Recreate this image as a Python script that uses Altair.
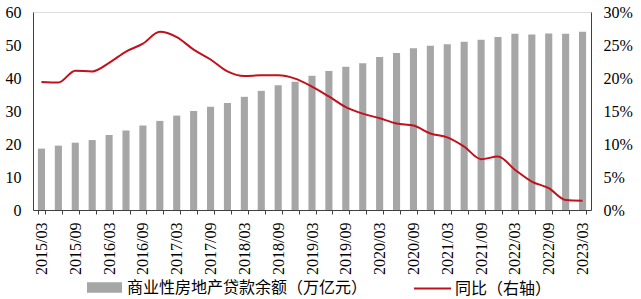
import altair as alt
import pandas as pd

quarters = [f"{y}/{m}" for y in range(2015, 2024) for m in ["03", "06", "09", "12"]][:33]
balance = [18.6, 19.5, 20.4, 21.2, 22.7, 24.1, 25.6, 27.0, 28.6, 30.0, 31.3, 32.4,
           34.3, 36.1, 37.8, 38.9, 40.7, 42.1, 43.4, 44.5, 46.4, 47.6, 49.0, 49.8,
           50.2, 51.0, 51.6, 52.4, 53.4, 53.2, 53.5, 53.4, 54.0]
yoy = [19.4, 19.3, 21.1, 21.0, 22.3, 24.0, 25.2, 27.0, 26.2, 24.3, 22.8, 21.0,
       20.3, 20.4, 20.4, 19.9, 18.7, 17.2, 15.6, 14.6, 13.9, 13.1, 12.8, 11.6,
       11.0, 9.6, 7.7, 8.1, 6.1, 4.3, 3.3, 1.5, 1.4]

bar_name = "商业性房地产贷款余额（万亿元）"
line_name = "同比（右轴）"

df = pd.DataFrame({
    "q": quarters,
    "bal": balance,
    "yoy": [v / 100 for v in yoy],
    "s1": bar_name,
    "s2": line_name,
})

FONT = "Liberation Serif, Noto Sans CJK SC"
label_values = quarters[::2]

x = alt.X("q:N", sort=quarters,
          scale=alt.Scale(paddingInner=0.58, paddingOuter=0.29),
          axis=alt.Axis(title=None, labelAngle=-90, labelAlign="right", labelBaseline="middle",
                        labelExpr="indexof(" + str(label_values).replace("'", '"') + ", datum.value) >= 0 ? datum.value : ''",
                        tickBand="extent", tickSize=4, labelPadding=8, labelFontSize=16,
                        labelFont=FONT, labelColor="#000", domainColor="#404040", tickColor="#404040",
                        labelOverlap=False))

bars = alt.Chart(df).mark_bar(color="#a6a6a6").encode(
    x=x,
    y=alt.Y("bal:Q", scale=alt.Scale(domain=[0, 60]),
            axis=alt.Axis(title=None, values=[0, 10, 20, 30, 40, 50, 60], tickSize=0,
                          labelPadding=12, labelFontSize=16, labelFont=FONT, labelColor="#000",
                          domainColor="#404040", grid=False)),
    fill=alt.Fill("s1:N", scale=alt.Scale(range=["#a6a6a6"]),
                  legend=alt.Legend(title=None, orient="none", legendX=54, legendY=258,
                                    symbolType="M-1,-0.3H1V0.3H-1Z", symbolSize=1225,
                                    symbolStrokeWidth=0, labelFontSize=16, labelFont=FONT,
                                    labelColor="#000", labelOffset=5, labelLimit=400)),
)

line = alt.Chart(df).mark_line(color="#c0121c", strokeWidth=2, interpolate="monotone").encode(
    x=x,
    y=alt.Y("yoy:Q", scale=alt.Scale(domain=[0, 0.3]),
            axis=alt.Axis(title=None, orient="right", format=".0%",
                          values=[0, 0.05, 0.1, 0.15, 0.2, 0.25, 0.3], tickSize=0,
                          labelPadding=12, labelFontSize=16, labelFont=FONT, labelColor="#000",
                          domainColor="#404040", grid=False)),
    stroke=alt.Stroke("s2:N", scale=alt.Scale(range=["#c0121c"]),
                      legend=alt.Legend(title=None, orient="none", legendX=380, legendY=257,
                                        symbolType="M-1,0H1", symbolSize=1369,
                                        symbolStrokeWidth=2, labelFontSize=16, labelFont=FONT,
                                        labelColor="#000", labelOffset=3, labelLimit=400)),
)

chart = alt.layer(bars, line).resolve_scale(y="independent", fill="independent", stroke="independent").properties(
    width=558, height=198,
    autosize=alt.AutoSizeParams(type="none"),
    padding={"left": 33, "top": 12, "right": 50, "bottom": 89},
).configure_view(stroke=None).configure(background="white")

chart.save("out.html", embed_options={"renderer": "svg", "actions": False})
